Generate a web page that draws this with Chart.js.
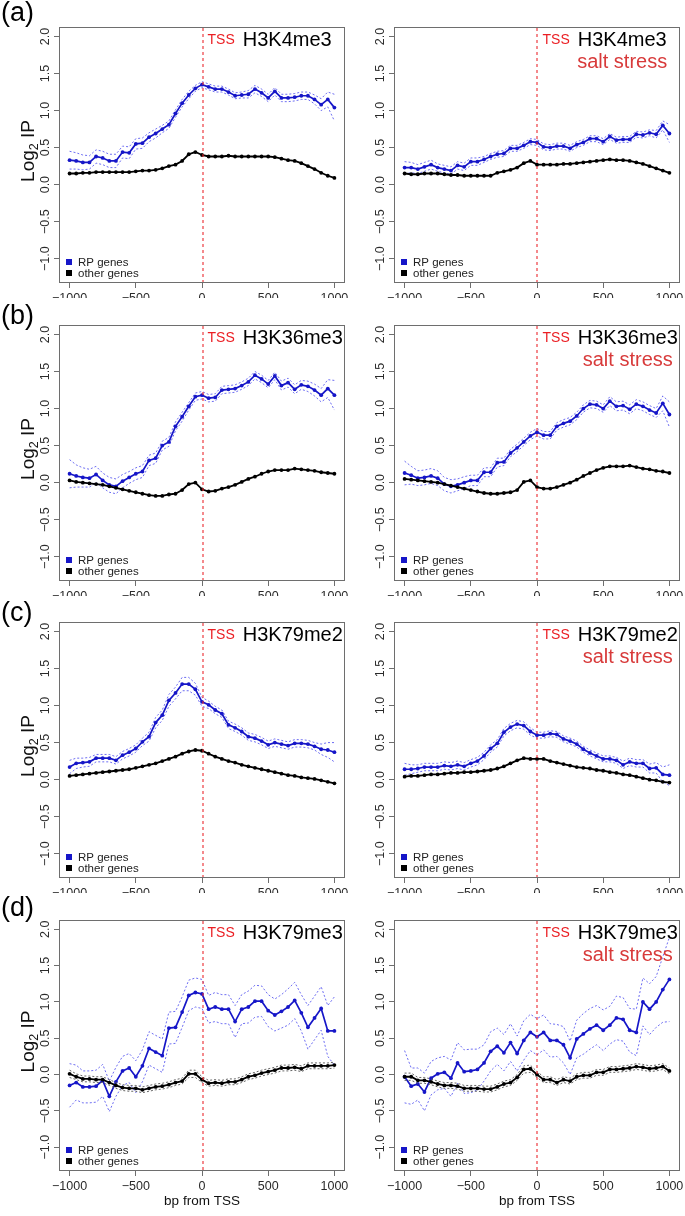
<!DOCTYPE html>
<html><head><meta charset="utf-8">
<script src="https://cdn.jsdelivr.net/npm/chart.js@4.4.1/dist/chart.umd.min.js"></script>
<style>
html,body{margin:0;padding:0;background:#fff;}
#wrap{position:relative;width:685px;height:1216px;overflow:hidden;background:#fff;}
canvas{position:absolute;}
</style></head><body><div id="wrap"></div>
<script>
// ---------- data ----------
const X_BP = [-1000,-950,-900,-850,-800,-750,-700,-650,-600,-550,-500,-450,-400,-350,-300,-250,-200,-150,-100,-50,0,50,100,150,200,250,300,350,400,450,500,550,600,650,700,750,800,850,900,950,1000];
const X_TICKS = [-1000,-500,0,500,1000];
const Y_TICKS = [-1,-0.5,0,0.5,1,1.5,2];
const PANEL_LETTERS = ['(a)','(b)','(c)','(d)'];
const MARKS = ['H3K4me3','H3K36me3','H3K79me2','H3K79me3'];
const CONDITION = 'salt stress';
const SERIES_NAMES = ['RP genes','other genes'];

// H3K4me3
const K4_RP = [0.33,0.32,0.30,0.30,0.38,0.36,0.32,0.32,0.44,0.43,0.55,0.56,0.64,0.69,0.75,0.81,0.96,1.10,1.21,1.30,1.35,1.32,1.29,1.29,1.25,1.20,1.21,1.22,1.29,1.24,1.17,1.26,1.17,1.17,1.18,1.20,1.20,1.15,1.08,1.15,1.04];
const K4_RP_SE = [0.12,0.11,0.10,0.09,0.09,0.09,0.09,0.09,0.08,0.08,0.07,0.07,0.06,0.06,0.05,0.05,0.05,0.05,0.05,0.04,0.04,0.04,0.04,0.04,0.04,0.04,0.04,0.05,0.05,0.05,0.05,0.05,0.05,0.05,0.05,0.05,0.05,0.06,0.08,0.10,0.18];
const K4_OTHER = [0.15,0.15,0.16,0.16,0.17,0.17,0.17,0.17,0.17,0.17,0.18,0.19,0.19,0.20,0.22,0.25,0.27,0.32,0.41,0.44,0.40,0.38,0.38,0.38,0.39,0.38,0.38,0.38,0.38,0.38,0.38,0.37,0.35,0.33,0.32,0.29,0.25,0.21,0.16,0.12,0.09];
// H3K4me3 salt stress
const K4S_RP = [0.23,0.23,0.21,0.24,0.27,0.23,0.21,0.19,0.26,0.24,0.31,0.31,0.34,0.38,0.41,0.42,0.49,0.49,0.53,0.58,0.57,0.51,0.50,0.52,0.52,0.49,0.54,0.57,0.62,0.62,0.58,0.65,0.60,0.61,0.61,0.68,0.67,0.70,0.68,0.80,0.69];
const K4S_RP_SE = [0.08,0.07,0.06,0.06,0.06,0.05,0.05,0.05,0.05,0.05,0.05,0.05,0.04,0.04,0.04,0.04,0.04,0.04,0.04,0.04,0.04,0.04,0.04,0.04,0.04,0.04,0.04,0.04,0.04,0.04,0.04,0.04,0.04,0.04,0.04,0.04,0.04,0.04,0.05,0.06,0.12];
const K4S_OTHER = [0.15,0.14,0.14,0.15,0.15,0.15,0.14,0.13,0.13,0.12,0.12,0.12,0.12,0.12,0.16,0.18,0.20,0.23,0.29,0.32,0.27,0.27,0.27,0.27,0.28,0.28,0.29,0.30,0.31,0.32,0.33,0.34,0.33,0.33,0.32,0.30,0.28,0.25,0.22,0.19,0.16];
// H3K36me3
const K36_RP = [0.12,0.09,0.07,0.06,0.11,0.03,-0.03,-0.05,0.02,0.07,0.12,0.15,0.30,0.33,0.50,0.55,0.76,0.89,1.03,1.16,1.18,1.14,1.15,1.25,1.26,1.27,1.31,1.36,1.45,1.40,1.33,1.44,1.31,1.35,1.26,1.32,1.30,1.25,1.18,1.27,1.18];
const K36_RP_SE = [0.19,0.15,0.13,0.12,0.11,0.10,0.10,0.10,0.09,0.08,0.08,0.08,0.07,0.07,0.06,0.06,0.06,0.06,0.05,0.05,0.05,0.05,0.05,0.05,0.05,0.05,0.05,0.05,0.05,0.05,0.05,0.05,0.06,0.06,0.06,0.06,0.07,0.08,0.09,0.12,0.20];
const K36_OTHER = [0.03,0.01,0.00,-0.01,-0.02,-0.03,-0.05,-0.07,-0.09,-0.11,-0.13,-0.15,-0.17,-0.18,-0.18,-0.16,-0.15,-0.10,-0.02,0.00,-0.09,-0.12,-0.11,-0.08,-0.06,-0.03,0.01,0.05,0.08,0.12,0.15,0.17,0.17,0.17,0.19,0.18,0.17,0.16,0.14,0.13,0.12];
// H3K36me3 salt stress
const K36S_RP = [0.13,0.10,0.06,0.07,0.09,0.06,-0.02,-0.05,-0.03,0.00,0.03,0.03,0.14,0.14,0.27,0.28,0.40,0.47,0.55,0.63,0.68,0.64,0.64,0.76,0.80,0.83,0.90,1.00,1.06,1.05,1.00,1.10,1.03,1.04,0.99,1.06,1.03,0.98,0.94,1.07,0.92];
const K36S_RP_SE = [0.16,0.12,0.10,0.10,0.10,0.10,0.09,0.09,0.08,0.08,0.07,0.07,0.06,0.06,0.06,0.05,0.05,0.05,0.05,0.05,0.05,0.05,0.05,0.05,0.05,0.05,0.05,0.05,0.05,0.05,0.05,0.06,0.06,0.06,0.06,0.06,0.06,0.06,0.06,0.10,0.17];
const K36S_OTHER = [0.05,0.04,0.03,0.02,0.01,0.00,-0.02,-0.04,-0.06,-0.08,-0.10,-0.12,-0.14,-0.15,-0.15,-0.14,-0.13,-0.10,0.01,0.03,-0.06,-0.08,-0.08,-0.06,-0.03,0.00,0.04,0.09,0.13,0.17,0.20,0.22,0.22,0.22,0.23,0.21,0.19,0.18,0.16,0.15,0.13];
// H3K79me2
const K79M2_RP = [0.17,0.22,0.23,0.24,0.29,0.29,0.29,0.26,0.33,0.37,0.42,0.51,0.58,0.77,0.87,1.07,1.17,1.29,1.29,1.22,1.05,1.01,0.94,0.89,0.74,0.70,0.65,0.58,0.56,0.52,0.47,0.50,0.48,0.46,0.49,0.49,0.48,0.45,0.41,0.40,0.37];
const K79M2_RP_SE = [0.09,0.07,0.06,0.06,0.05,0.05,0.05,0.05,0.05,0.05,0.05,0.05,0.06,0.07,0.07,0.08,0.08,0.09,0.09,0.08,0.06,0.05,0.05,0.05,0.05,0.05,0.05,0.05,0.05,0.05,0.05,0.05,0.05,0.05,0.05,0.05,0.05,0.05,0.07,0.10,0.13];
const K79M2_OTHER = [0.05,0.06,0.07,0.08,0.09,0.10,0.11,0.12,0.13,0.14,0.16,0.18,0.20,0.22,0.25,0.28,0.31,0.35,0.38,0.40,0.39,0.35,0.31,0.28,0.25,0.23,0.20,0.18,0.16,0.14,0.12,0.10,0.08,0.06,0.05,0.03,0.02,0.01,-0.01,-0.03,-0.05];
// H3K79me2 salt stress
const K79M2S_RP = [0.14,0.14,0.15,0.17,0.17,0.17,0.19,0.18,0.20,0.18,0.22,0.25,0.32,0.42,0.49,0.64,0.71,0.75,0.73,0.65,0.60,0.60,0.62,0.61,0.55,0.52,0.48,0.41,0.36,0.32,0.28,0.28,0.26,0.20,0.24,0.22,0.22,0.15,0.16,0.07,0.06];
const K79M2S_RP_SE = [0.08,0.06,0.05,0.05,0.05,0.05,0.05,0.05,0.05,0.05,0.05,0.05,0.05,0.05,0.05,0.05,0.05,0.05,0.05,0.05,0.04,0.04,0.04,0.04,0.04,0.04,0.04,0.04,0.04,0.04,0.04,0.04,0.04,0.05,0.05,0.05,0.05,0.06,0.07,0.10,0.14];
const K79M2S_OTHER = [0.04,0.05,0.05,0.06,0.07,0.07,0.08,0.09,0.09,0.10,0.10,0.11,0.12,0.13,0.15,0.18,0.22,0.26,0.29,0.28,0.28,0.28,0.25,0.23,0.21,0.19,0.17,0.16,0.15,0.13,0.12,0.10,0.09,0.07,0.06,0.04,0.02,0.00,-0.01,-0.03,-0.04];
// H3K79me3
const K79M3_RP = [-0.15,-0.11,-0.17,-0.17,-0.16,-0.08,-0.30,-0.10,0.05,0.09,-0.03,0.12,0.36,0.31,0.26,0.64,0.65,0.86,1.09,1.13,1.11,0.90,0.93,0.90,0.90,0.73,0.90,0.93,1.01,1.01,0.88,0.82,0.87,0.93,1.02,0.85,0.65,0.78,0.91,0.60,0.60];
const K79M3_RP_SE = [0.30,0.24,0.22,0.22,0.22,0.22,0.21,0.20,0.20,0.20,0.22,0.22,0.23,0.23,0.23,0.22,0.22,0.21,0.21,0.20,0.20,0.19,0.20,0.20,0.20,0.22,0.20,0.22,0.22,0.21,0.22,0.22,0.23,0.25,0.25,0.25,0.30,0.30,0.30,0.35,0.47];
const K79M3_OTHER = [0.01,-0.03,-0.06,-0.06,-0.07,-0.07,-0.11,-0.15,-0.18,-0.19,-0.19,-0.21,-0.19,-0.17,-0.16,-0.14,-0.11,-0.09,0.01,0.01,-0.07,-0.12,-0.11,-0.12,-0.10,-0.10,-0.07,-0.03,-0.01,0.02,0.04,0.06,0.09,0.09,0.10,0.08,0.12,0.12,0.12,0.12,0.13];
const K79M3_OTHER_SE = [0.05,0.04,0.04,0.04,0.04,0.04,0.04,0.04,0.04,0.04,0.04,0.04,0.04,0.04,0.04,0.04,0.04,0.04,0.05,0.05,0.04,0.04,0.04,0.04,0.04,0.04,0.04,0.04,0.04,0.04,0.04,0.04,0.04,0.04,0.04,0.04,0.04,0.04,0.04,0.04,0.04];
// H3K79me3 salt stress
const K79M3S_RP = [-0.03,-0.16,-0.13,-0.24,-0.05,0.01,0.03,-0.05,0.16,0.04,0.05,0.07,0.16,0.32,0.39,0.30,0.44,0.29,0.47,0.58,0.52,0.58,0.47,0.47,0.41,0.23,0.49,0.56,0.63,0.68,0.61,0.68,0.78,0.76,0.61,0.58,1.00,0.90,1.00,1.17,1.31];
const K79M3S_RP_SE = [0.36,0.25,0.22,0.26,0.23,0.22,0.22,0.25,0.28,0.30,0.30,0.28,0.25,0.27,0.25,0.25,0.26,0.24,0.27,0.25,0.25,0.24,0.23,0.22,0.25,0.23,0.26,0.28,0.28,0.27,0.28,0.26,0.30,0.30,0.30,0.32,0.33,0.35,0.35,0.45,0.58];
const K79M3S_OTHER = [-0.03,-0.03,-0.08,-0.08,-0.10,-0.13,-0.15,-0.15,-0.16,-0.19,-0.19,-0.19,-0.20,-0.20,-0.17,-0.13,-0.11,-0.04,0.07,0.08,0.00,-0.07,-0.07,-0.11,-0.07,-0.09,-0.03,-0.01,-0.01,0.03,0.03,0.07,0.07,0.08,0.09,0.11,0.10,0.08,0.09,0.11,0.05];
const K79M3S_OTHER_SE = [0.05,0.05,0.04,0.04,0.04,0.04,0.04,0.04,0.04,0.04,0.04,0.04,0.04,0.04,0.04,0.04,0.04,0.04,0.05,0.05,0.04,0.04,0.04,0.04,0.04,0.04,0.04,0.04,0.04,0.04,0.04,0.04,0.04,0.04,0.04,0.04,0.04,0.04,0.04,0.04,0.04];

// ---------- layout / style ----------
const FONT = '"Liberation Sans", Arial, Helvetica, sans-serif';
const BOX_TOP = [27, 325, 622, 920];
const BOX_H = [256, 256, 256, 251];
const LETTER_OFF = [-13, -8, -8, -11];
const COLS = [
  {canvasLeft: 0, width: 350, boxLeft: 59, boxRight: 345},
  {canvasLeft: 350, width: 335, boxLeft: 44, boxRight: 330}
];
const BLUE = '#1616c8';
const BLUE_DASH = '#5c5cf0';
const RED = 'rgb(235,30,35)';
const RED_LINE = 'rgba(235,40,45,0.55)';
const RED_SOFT = '#d83a3a';

const PANELS = [
  {row:0,col:0,rp:K4_RP,se:K4_RP_SE,other:K4_OTHER,otherSe:null,mark:MARKS[0],salt:false},
  {row:0,col:1,rp:K4S_RP,se:K4S_RP_SE,other:K4S_OTHER,otherSe:null,mark:MARKS[0],salt:true},
  {row:1,col:0,rp:K36_RP,se:K36_RP_SE,other:K36_OTHER,otherSe:null,mark:MARKS[1],salt:false},
  {row:1,col:1,rp:K36S_RP,se:K36S_RP_SE,other:K36S_OTHER,otherSe:null,mark:MARKS[1],salt:true},
  {row:2,col:0,rp:K79M2_RP,se:K79M2_RP_SE,other:K79M2_OTHER,otherSe:null,mark:MARKS[2],salt:false},
  {row:2,col:1,rp:K79M2S_RP,se:K79M2S_RP_SE,other:K79M2S_OTHER,otherSe:null,mark:MARKS[2],salt:true},
  {row:3,col:0,rp:K79M3_RP,se:K79M3_RP_SE,other:K79M3_OTHER,otherSe:K79M3_OTHER_SE,mark:MARKS[3],salt:false},
  {row:3,col:1,rp:K79M3S_RP,se:K79M3S_RP_SE,other:K79M3S_OTHER,otherSe:K79M3S_OTHER_SE,mark:MARKS[3],salt:true}
];

function minus(v){ return v < 0 ? '\u2212' + String(Math.abs(v)) : String(v); }
function fmtY(v){ const s = Math.abs(v).toFixed(1); return v < 0 ? '\u2212' + s : s; }
function pts(arr){ return X_BP.map((x,i)=>({x:x, y:arr[i]})); }
function band(arr, se, sign){ return X_BP.map((x,i)=>({x:x, y:arr[i] + sign*se[i]})); }

function drawTssLine(chart, o){
  const {ctx, chartArea:a, scales:{x}} = chart;
  let px = Math.floor(x.getPixelForValue(0));
  // align the 2px dash pair to an even page column
  if ((px + o.pageLeft) % 2 !== 0) px -= 1;
  ctx.save();
  ctx.fillStyle = RED_LINE;
  for (let yy = Math.round(a.top) + 1; yy < a.bottom - 1; yy += 6){
    ctx.fillRect(px, yy, 2, Math.min(3, a.bottom - 1 - yy));
  }
  ctx.restore();
}

const deco = {
  id: 'deco',
  afterDatasetsDraw(chart, args, o){ drawTssLine(chart, o); },
  afterDraw(chart, args, o){
    const {ctx, chartArea:a, scales:{x, y}} = chart;
    ctx.save();
    // box
    ctx.strokeStyle = '#6e6e6e'; ctx.lineWidth = 1;
    ctx.strokeRect(Math.round(a.left)+0.5, Math.round(a.top)+0.5, Math.round(a.right-a.left)-1, Math.round(a.bottom-a.top)-1);
    // y tick labels, rotated
    ctx.fillStyle = '#2a2a2a';
    ctx.font = '12.5px ' + FONT;
    ctx.textAlign = 'center'; ctx.textBaseline = 'middle';
    y.ticks.forEach(t => {
      const py = y.getPixelForValue(t.value);
      ctx.save(); ctx.translate(a.left - 13, py); ctx.rotate(-Math.PI/2);
      ctx.fillText(fmtY(t.value), 0, 0); ctx.restore();
    });
    // titles
    const zx = x.getPixelForValue(0);
    ctx.textAlign = 'left'; ctx.textBaseline = 'alphabetic';
    ctx.font = '14px ' + FONT; ctx.fillStyle = RED;
    const tssX = zx + 5.5;
    ctx.fillText('TSS', tssX, a.top + 17);
    const tssW = ctx.measureText('TSS').width;
    ctx.font = '20px ' + FONT; ctx.fillStyle = '#000';
    const nameX = tssX + tssW + 8;
    ctx.fillText(o.mark, nameX, a.top + 19);
    const nameW = ctx.measureText(o.mark).width;
    if (o.salt){
      ctx.fillStyle = RED_SOFT; ctx.textAlign = 'center';
      ctx.fillText(CONDITION, nameX + nameW/2, a.top + 41);
    }
    // legend
    ctx.textAlign = 'left'; ctx.textBaseline = 'middle';
    ctx.font = '11.5px ' + FONT;
    const lx = a.left + 7;
    [[BLUE, SERIES_NAMES[0], a.bottom - 21], ['#000', SERIES_NAMES[1], a.bottom - 10]].forEach(([c, label, ly]) => {
      ctx.fillStyle = c; ctx.fillRect(lx, ly - 3, 6, 6);
      ctx.fillStyle = '#222'; ctx.fillText(label, a.left + 19, ly + 0.5);
    });
    // y axis title
    if (o.col === 0){
      ctx.save();
      ctx.translate(28, (a.top + a.bottom)/2 - 4);
      ctx.rotate(-Math.PI/2);
      ctx.fillStyle = '#111'; ctx.textBaseline = 'alphabetic'; ctx.textAlign = 'left';
      ctx.font = '19px ' + FONT; const w1 = ctx.measureText('Log').width;
      ctx.font = '12.5px ' + FONT; const w2 = ctx.measureText('2').width;
      ctx.font = '19px ' + FONT; const w3 = ctx.measureText(' IP').width;
      const start = -(w1 + w2 + w3)/2;
      ctx.fillText('Log', start, 6);
      ctx.font = '12.5px ' + FONT; ctx.fillText('2', start + w1, 10);
      ctx.font = '19px ' + FONT; ctx.fillText(' IP', start + w1 + w2, 6);
      ctx.restore();
      // panel letter
      ctx.fillStyle = '#000'; ctx.font = '27px ' + FONT;
      ctx.textAlign = 'left'; ctx.textBaseline = 'middle';
      ctx.fillText(o.letter, 1, a.top + LETTER_OFF[o.row]);
    }
    if (o.row === 3){
      ctx.fillStyle = '#111'; ctx.font = '13.5px ' + FONT;
      ctx.textAlign = 'center'; ctx.textBaseline = 'middle';
      ctx.fillText('bp from TSS', zx, a.bottom + 30);
    }
    ctx.restore();
  }
};

const wrap = document.getElementById('wrap');
PANELS.forEach(p => {
  const col = COLS[p.col];
  const boxTop = BOX_TOP[p.row];
  const boxH = BOX_H[p.row];
  const top = boxTop - 27;
  const bottomMargin = p.row === 3 ? 1216 - (boxTop + boxH) : 15;
  const h = 27 + boxH + bottomMargin;
  const cv = document.createElement('canvas');
  cv.width = col.width; cv.height = h;
  cv.style.left = col.canvasLeft + 'px'; cv.style.top = top + 'px';
  cv.style.width = col.width + 'px'; cv.style.height = h + 'px';
  wrap.appendChild(cv);

  const lineBase = {tension:0, fill:false, spanGaps:true};
  const datasets = [
    Object.assign({}, lineBase, {label:'other', data:pts(p.other), borderColor:'#000', borderWidth:1.8, pointRadius:1.9, pointBackgroundColor:'#000', pointBorderWidth:0, order:0}),
    Object.assign({}, lineBase, {label:'rp', data:pts(p.rp), borderColor:BLUE, borderWidth:1.7, pointRadius:1.9, pointBackgroundColor:BLUE, pointBorderWidth:0, order:2}),
    Object.assign({}, lineBase, {label:'rp hi', data:band(p.rp, p.se, 1), borderColor:BLUE_DASH, borderWidth:0.9, borderDash:[2,2], pointRadius:0, order:3}),
    Object.assign({}, lineBase, {label:'rp lo', data:band(p.rp, p.se, -1), borderColor:BLUE_DASH, borderWidth:0.9, borderDash:[2,2], pointRadius:0, order:3})
  ];
  if (p.otherSe){
    datasets.push(Object.assign({}, lineBase, {label:'other hi', data:band(p.other, p.otherSe, 1), borderColor:'#555', borderWidth:0.9, borderDash:[2,2], pointRadius:0, order:1}));
    datasets.push(Object.assign({}, lineBase, {label:'other lo', data:band(p.other, p.otherSe, -1), borderColor:'#555', borderWidth:0.9, borderDash:[2,2], pointRadius:0, order:1}));
  }

  new Chart(cv, {
    type: 'line',
    data: {datasets},
    options: {
      responsive:false, animation:false, devicePixelRatio:1, events:[],
      layout:{padding:{top:27, right: col.width - col.boxRight, left:0, bottom:0}},
      plugins:{
        legend:{display:false}, tooltip:{enabled:false},
        deco:{mark:p.mark, salt:p.salt, col:p.col, row:p.row, letter:PANEL_LETTERS[p.row], pageLeft:col.canvasLeft}
      },
      scales:{
        x:{
          type:'linear', min:-1080, max:1080,
          afterBuildTicks(s){ s.ticks = X_TICKS.map(v=>({value:v})); },
          afterFit(s){ s.height = bottomMargin; s.paddingLeft = 0; s.paddingRight = 0; },
          ticks:{autoSkip:false, maxRotation:0, minRotation:0, padding:3, color:'#2a2a2a', font:{family:FONT, size:12.5}, callback:(v)=>minus(v)},
          grid:{drawOnChartArea:false, drawTicks:true, tickLength:5, color:'#6e6e6e', lineWidth:1},
          border:{display:false}
        },
        y:{
          type:'linear', min:-1.328, max:2.128,
          afterBuildTicks(s){ s.ticks = Y_TICKS.map(v=>({value:v})); },
          afterFit(s){ s.width = col.boxLeft; s.paddingTop = 0; s.paddingBottom = 0; },
          ticks:{display:false},
          grid:{drawOnChartArea:false, drawTicks:true, tickLength:5, color:'#6e6e6e', lineWidth:1},
          border:{display:false}
        }
      }
    },
    plugins:[deco]
  });
});
</script>
</body></html>
